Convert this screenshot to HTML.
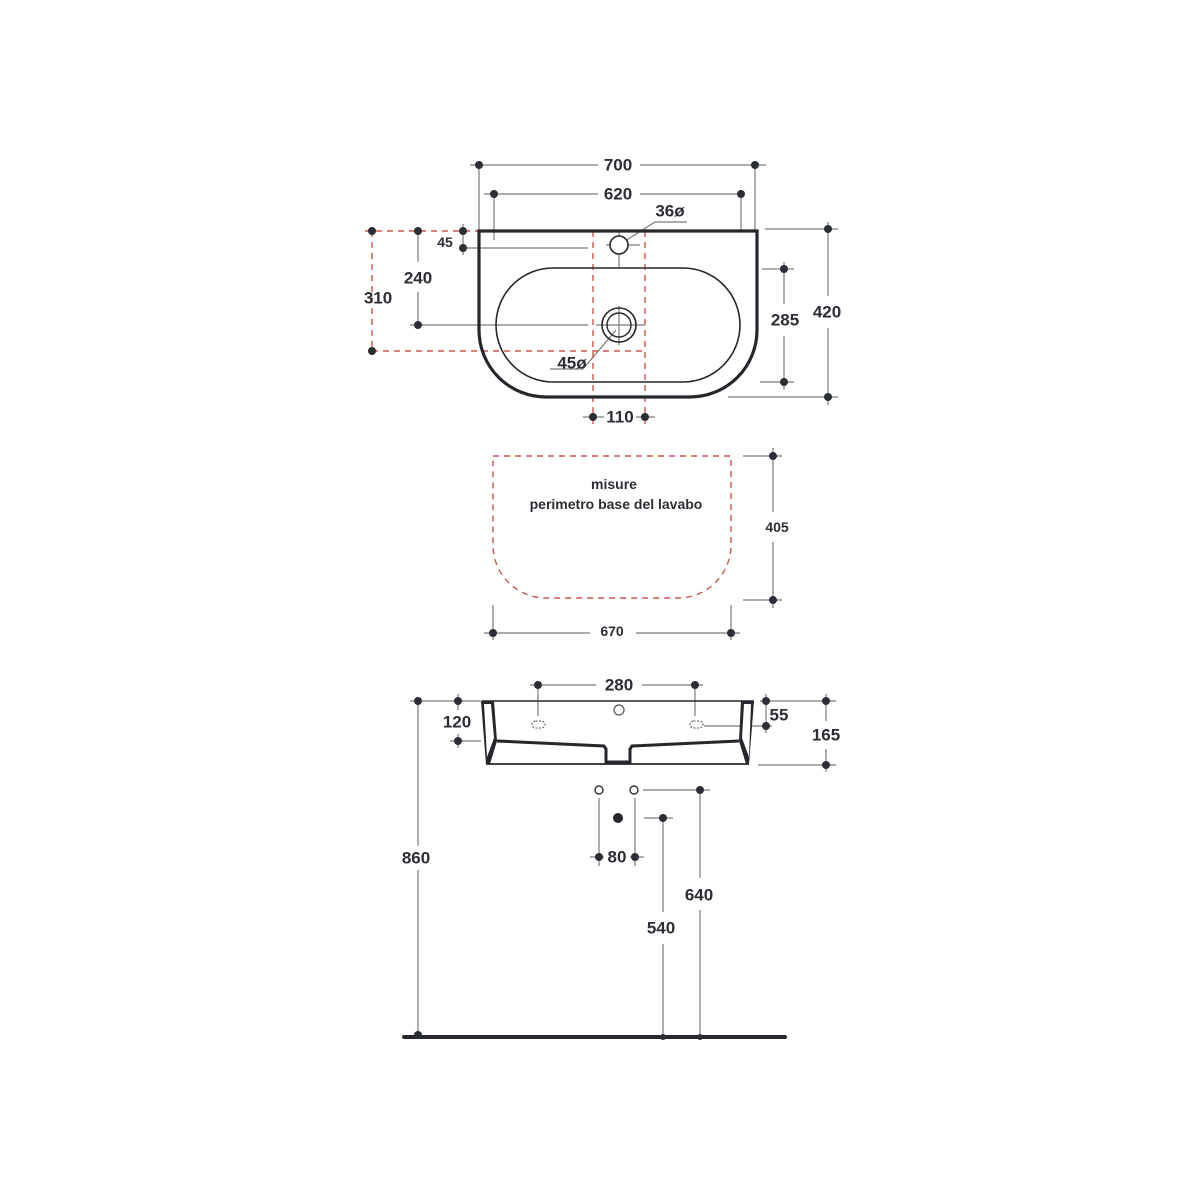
<!DOCTYPE html>
<html><head><meta charset="utf-8"><style>
html,body{margin:0;padding:0;background:#fff}
svg{display:block}
text{font-family:"Liberation Sans",sans-serif;font-weight:bold;fill:#2b2e34;text-anchor:middle;dominant-baseline:central}
</style></head><body>
<svg width="1200" height="1200" viewBox="0 0 1200 1200" xmlns="http://www.w3.org/2000/svg">
<g stroke="#7a7a7a" stroke-width="1.2" fill="none">
<!-- top view dims -->
<line x1="470" y1="165" x2="598" y2="165"/><line x1="640" y1="165" x2="766" y2="165"/>
<line x1="479" y1="165" x2="479" y2="231"/><line x1="755" y1="165" x2="755" y2="231"/>
<line x1="484" y1="194" x2="598" y2="194"/><line x1="640" y1="194" x2="741" y2="194"/>
<line x1="494" y1="190" x2="494" y2="240"/><line x1="741" y1="190" x2="741" y2="231"/>
<line x1="463" y1="224" x2="463" y2="255"/><line x1="463" y1="248" x2="588" y2="248"/>
<line x1="418" y1="231" x2="418" y2="262"/><line x1="418" y1="292" x2="418" y2="325"/><line x1="410" y1="325" x2="588" y2="325"/>
<line x1="619" y1="231" x2="619" y2="268"/><line x1="606" y1="245" x2="640" y2="245"/>
<line x1="619" y1="306" x2="619" y2="345"/><line x1="596" y1="325" x2="645" y2="325"/>
<line x1="625" y1="241" x2="655" y2="222"/><line x1="655" y1="222" x2="687" y2="222"/>
<line x1="616" y1="330" x2="583" y2="369"/><line x1="583" y1="369" x2="550" y2="369"/>
<line x1="583" y1="417" x2="604" y2="417"/><line x1="636" y1="417" x2="655" y2="417"/>
<line x1="765" y1="229" x2="838" y2="229"/><line x1="728" y1="397" x2="838" y2="397"/>
<line x1="828" y1="222" x2="828" y2="296"/><line x1="828" y1="328" x2="828" y2="405"/>
<line x1="762" y1="269" x2="794" y2="269"/><line x1="760" y1="382" x2="794" y2="382"/>
<line x1="784" y1="262" x2="784" y2="304"/><line x1="784" y1="336" x2="784" y2="390"/>
<!-- base dims -->
<line x1="743" y1="456" x2="782" y2="456"/><line x1="743" y1="600" x2="782" y2="600"/>
<line x1="773" y1="448" x2="773" y2="512"/><line x1="773" y1="542" x2="773" y2="608"/>
<line x1="493" y1="605" x2="493" y2="640"/><line x1="731" y1="605" x2="731" y2="640"/>
<line x1="484" y1="633" x2="590" y2="633"/><line x1="636" y1="633" x2="740" y2="633"/>
<!-- side dims -->
<line x1="530" y1="685" x2="596" y2="685"/><line x1="642" y1="685" x2="703" y2="685"/>
<line x1="538" y1="685" x2="538" y2="716"/><line x1="695" y1="685" x2="695" y2="716"/>
<line x1="410" y1="701" x2="481" y2="701"/>
<line x1="458" y1="694" x2="458" y2="710"/><line x1="458" y1="734" x2="458" y2="748"/><line x1="450" y1="741" x2="481" y2="741"/>
<line x1="418" y1="701" x2="418" y2="846"/><line x1="418" y1="870" x2="418" y2="1037"/>
<line x1="760" y1="701" x2="836" y2="701"/><line x1="704" y1="726" x2="772" y2="726"/>
<line x1="766" y1="694" x2="766" y2="733"/>
<line x1="758" y1="765" x2="836" y2="765"/>
<line x1="826" y1="694" x2="826" y2="721"/><line x1="826" y1="749" x2="826" y2="772"/>
<line x1="599" y1="798" x2="599" y2="866"/><line x1="635" y1="798" x2="635" y2="866"/>
<line x1="590" y1="857" x2="604" y2="857"/><line x1="630" y1="857" x2="644" y2="857"/>
<line x1="643" y1="790" x2="710" y2="790"/><line x1="700" y1="790" x2="700" y2="878"/><line x1="700" y1="910" x2="700" y2="1037"/>
<line x1="644" y1="818" x2="673" y2="818"/><line x1="663" y1="818" x2="663" y2="912"/><line x1="663" y1="944" x2="663" y2="1037"/>
</g>
<!-- red dashed -->
<g stroke="#c8574e" stroke-width="1.4" fill="none" stroke-dasharray="6,5">
<line x1="365" y1="231" x2="479" y2="231"/>
<line x1="372" y1="231" x2="372" y2="351"/>
<line x1="372" y1="351" x2="645" y2="351"/>
<line x1="593" y1="231" x2="645" y2="231"/>
<line x1="593" y1="231" x2="593" y2="425"/>
<line x1="645" y1="231" x2="645" y2="425"/>
<path d="M493 456 H731 V545 A53 53 0 0 1 678 598 H546 A53 53 0 0 1 493 545 Z"/>
</g>
<!-- top view sink -->
<path d="M479 231 H757 V330 A67 67 0 0 1 690 397 H546 A67 67 0 0 1 479 330 Z" fill="none" stroke="#25272c" stroke-width="3.2"/>
<rect x="496" y="268" width="244" height="114" rx="57" fill="none" stroke="#25272c" stroke-width="1.6"/>
<circle cx="619" cy="245" r="9" fill="#fff" stroke="#25272c" stroke-width="1.6"/>
<circle cx="619" cy="325" r="17" fill="none" stroke="#25272c" stroke-width="1.6"/>
<circle cx="619" cy="325" r="12" fill="none" stroke="#25272c" stroke-width="1.4"/>
<!-- side view -->
<line x1="482" y1="701" x2="754" y2="701" stroke="#25272c" stroke-width="1.5"/>
<line x1="486" y1="764" x2="749" y2="764" stroke="#25272c" stroke-width="1.8"/>
<polygon points="481,701 494,701 497,741 490,764 486,764" fill="#25272c"/>
<polygon points="754,701 741,701 739,741 746,764 749,764" fill="#25272c"/>
<polygon points="484,704 491,704 494,738 487,757" fill="#fff"/>
<polygon points="751,704 744,704 742,738 749,757" fill="#fff"/>
<polyline points="497,741 604,746 606,749 606,762 630,762 630,749 632,746 739,741" fill="none" stroke="#25272c" stroke-width="3"/>
<circle cx="619" cy="710" r="5" fill="none" stroke="#555" stroke-width="1.2"/>
<rect x="532" y="721" width="13" height="7" rx="3.5" fill="none" stroke="#555" stroke-width="1" stroke-dasharray="2,1.5"/>
<rect x="690" y="721" width="13" height="7" rx="3.5" fill="none" stroke="#555" stroke-width="1" stroke-dasharray="2,1.5"/>
<circle cx="599" cy="790" r="4" fill="#fff" stroke="#333" stroke-width="1.4"/>
<circle cx="634" cy="790" r="4" fill="#fff" stroke="#333" stroke-width="1.4"/>
<circle cx="618" cy="818" r="5" fill="#25272c"/>
<line x1="404" y1="1037" x2="785" y2="1037" stroke="#25272c" stroke-width="4" stroke-linecap="round"/>
<!-- dots -->
<g fill="#2b2e34">
<circle cx="479" cy="165" r="4"/><circle cx="755" cy="165" r="4"/>
<circle cx="494" cy="194" r="4"/><circle cx="741" cy="194" r="4"/>
<circle cx="463" cy="231" r="4"/><circle cx="463" cy="248" r="4"/>
<circle cx="418" cy="231" r="4"/><circle cx="418" cy="325" r="4"/>
<circle cx="372" cy="231" r="4"/><circle cx="372" cy="351" r="4"/>
<circle cx="593" cy="417" r="4"/><circle cx="645" cy="417" r="4"/>
<circle cx="828" cy="229" r="4"/><circle cx="828" cy="397" r="4"/>
<circle cx="784" cy="269" r="4"/><circle cx="784" cy="382" r="4"/>
<circle cx="773" cy="456" r="4"/><circle cx="773" cy="600" r="4"/>
<circle cx="493" cy="633" r="4"/><circle cx="731" cy="633" r="4"/>
<circle cx="538" cy="685" r="4"/><circle cx="695" cy="685" r="4"/>
<circle cx="418" cy="701" r="4"/><circle cx="418" cy="1035" r="4"/>
<circle cx="458" cy="701" r="4"/><circle cx="458" cy="741" r="4"/>
<circle cx="766" cy="701" r="4"/><circle cx="766" cy="726" r="4"/>
<circle cx="826" cy="701" r="4"/><circle cx="826" cy="765" r="4"/>
<circle cx="599" cy="857" r="4"/><circle cx="635" cy="857" r="4"/>
<circle cx="700" cy="790" r="4"/><circle cx="663" cy="818" r="4"/>
<circle cx="663" cy="1037" r="3"/><circle cx="700" cy="1037" r="3"/>
</g>
<!-- labels -->
<g font-size="17">
<text x="618" y="165">700</text>
<text x="618" y="194">620</text>
<text x="670" y="211">36ø</text>
<text x="418" y="278">240</text>
<text x="378" y="298">310</text>
<text x="572" y="363">45ø</text>
<text x="620" y="417">110</text>
<text x="827" y="312">420</text>
<text x="785" y="320">285</text>
<text x="619" y="685">280</text>
<text x="457" y="722">120</text>
<text x="779" y="715">55</text>
<text x="826" y="735">165</text>
<text x="416" y="858">860</text>
<text x="617" y="857">80</text>
<text x="699" y="895">640</text>
<text x="661" y="928">540</text>
</g>
<text x="445" y="242" font-size="14">45</text>
<text x="777" y="527" font-size="14">405</text>
<text x="612" y="631" font-size="14">670</text>
<text x="614" y="484" font-size="14">misure</text>
<text x="616" y="504" font-size="14">perimetro base del lavabo</text>
</svg>
</body></html>
